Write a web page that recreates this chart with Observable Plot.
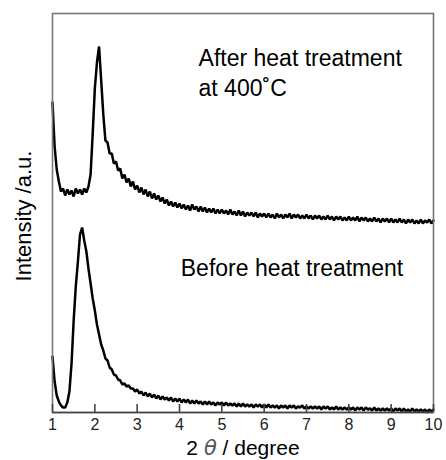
<!DOCTYPE html>
<html><head><meta charset="utf-8">
<script src="https://cdn.jsdelivr.net/npm/d3@7"></script>
<script src="https://cdn.jsdelivr.net/npm/@observablehq/plot@0.6"></script>
<style>body{margin:0;background:#fff;} svg{display:block;}</style>
</head><body><div id="chart"></div>
<script>
// 2θ sampling grid: 1.00 … 10.00 in steps of 0.05 (181 samples)
const twoTheta = d3.range(0, 181).map(i => Math.round((1 + i * 0.05) * 100) / 100);

// Intensity (arbitrary units), after heat treatment at 400 °C (upper trace)
const afterIntensity = [
  310,266,243,231,221,224,217,223,218,222,216,224,219,223,218,224,220,226,238,279,
  324,350,366,332,298,272,270,259,259,249,251,242,244,234,238,230,234,226,231,223,
  227,220,225,218,223,216,221,214,219,213,217,211,215,209,213,207,211,206,210,205,
  209,204,208,203,207,202,208,203,206,201,206,201,205,200,204,200,204,199,203,199,
  203,199,202,198,203,198,201,197,202,197,201,196,200,197,200,196,200,195,199,196,
  199,195,199,195,198,194,199,195,198,194,198,195,199,194,198,195,198,194,197,194,
  198,194,197,193,197,194,197,193,196,193,197,193,196,192,196,193,196,192,195,192,
  196,192,195,192,196,191,195,192,195,191,194,191,195,191,194,190,194,191,194,190,
  194,190,193,190,194,190,193,189,193,190,193,189,192,189,193,189,192,190,193,189,192
];

// Intensity (arbitrary units), before heat treatment (lower trace)
const beforeIntensity = [
  56,31,17,11,7,5,5,10,21,49,92,126,151,178,185,172,161,144,129,114,
  102,88,78,68,62,54,52,45,43,38,37,33,32,28,29,26,27,24,24,21,
  23,19,21,17,20,16,19,15,18,14,17,13,16,13,15,12,15,11,14,11,
  14,10,13,10,13,9,12,9,12,9,11,8,11,8,11,8,10,7,10,8,
  10,7,10,7,9,7,9,6,9,6,9,6,8,6,8,5,8,6,8,5,
  8,5,8,5,7,5,7,4,7,5,7,4,7,5,7,4,6,5,7,4,
  6,4,6,4,6,4,6,3,6,4,6,3,5,3,6,3,5,3,5,3,
  5,3,5,2,5,3,5,2,5,3,4,2,5,2,4,2,4,2,4,2,
  4,1,4,2,4,1,4,1,3,1,4,1,3,1,3,1,3,0,3,1,3
];

const xTicks = [1,2,3,4,5,6,7,8,9,10];
const labelAfter = "After heat treatment\nat 400˚C";
const labelBefore = "Before heat treatment";

const afterRows = twoTheta.map((x, i) => ({x, y: afterIntensity[i]}));
const beforeRows = twoTheta.map((x, i) => ({x, y: beforeIntensity[i]}));

const font = "'Liberation Sans', Arial, sans-serif";

const chart = Plot.plot({
  width: 446, height: 460,
  marginLeft: 52, marginRight: 13, marginTop: 13, marginBottom: 48,
  x: {domain: [1, 10]},
  y: {domain: [0, 399], axis: null},
  style: {fontFamily: font, fontSize: "16px", background: "#fff", color: "#000"},
  marks: [
    Plot.lineY(afterRows, {x: "x", y: "y", stroke: "#000", strokeWidth: 2.5, strokeLinejoin: "miter"}),
    Plot.lineY(beforeRows, {x: "x", y: "y", stroke: "#000", strokeWidth: 2.5, strokeLinejoin: "miter"}),
    Plot.frame({stroke: "#777", strokeWidth: 1.6}),
    Plot.ruleY([0], {stroke: "#444", strokeWidth: 1.6}),
    // inward tick marks
    Plot.ruleX(xTicks, {x: d => d, y1: () => 0, y2: () => 8, stroke: "#444", strokeWidth: 1.6}),
    // tick labels
    Plot.axisX({ticks: xTicks, tickSize: 0, tickPadding: 6, tickFormat: d => String(d),
      fill: "#222", fontSize: 16, label: null}),
    Plot.text([labelAfter], {x: 4.45, y: 317, text: d => d, textAnchor: "start", lineAnchor: "bottom",
      lineHeight: 1.3, fontSize: 23, fill: "#000"}),
    Plot.text([labelBefore], {x: 4.03, y: 137, text: d => d, textAnchor: "start", lineAnchor: "bottom",
      fontSize: 23, fill: "#000"})
  ]
});

const svg = d3.select(chart);

// x-axis title with the Greek theta in a thin slanted face
const xt = svg.append("text")
  .attr("x", 243).attr("y", 455)
  .attr("text-anchor", "middle")
  .style("font-family", font).style("font-size", "21px").attr("fill", "#000");
xt.append("tspan").text("2 ");
xt.append("tspan").text("θ").style("font-style", "italic").style("font-weight", "200")
  .style("font-family", "'DejaVu Sans', sans-serif").attr("fill", "#555");
xt.append("tspan").text(" / degree");

// y-axis title
svg.append("text")
  .attr("transform", "translate(31,216) rotate(-90)")
  .attr("text-anchor", "middle")
  .style("font-family", font).style("font-size", "22px").attr("fill", "#000")
  .text("Intensity /a.u.");

document.getElementById("chart").appendChild(chart);
</script>
</body></html>
